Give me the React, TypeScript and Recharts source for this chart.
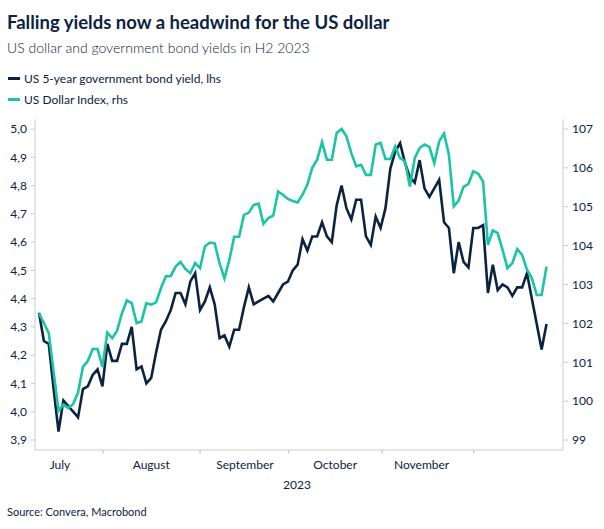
import React from 'react';
import { LineChart, Line, XAxis, YAxis } from 'recharts';

const yieldValues = [
  4.35, 4.25, 4.24, 4.08, 3.93, 4.04, 4.02, 4.0, 3.98, 4.08,
  4.09, 4.13, 4.15, 4.09, 4.24, 4.18, 4.18, 4.24, 4.24, 4.3,
  4.15, 4.16, 4.1, 4.12, 4.21, 4.29, 4.32, 4.36, 4.42, 4.42,
  4.38, 4.46, 4.49, 4.36, 4.39, 4.44, 4.38, 4.26, 4.27, 4.23,
  4.29, 4.29, 4.37, 4.44, 4.38, 4.39, 4.4, 4.41, 4.39, 4.42,
  4.45, 4.46, 4.5, 4.52, 4.61, 4.57, 4.62, 4.62, 4.67, 4.62,
  4.6, 4.73, 4.8, 4.72, 4.68, 4.75, 4.75, 4.62, 4.59, 4.69,
  4.65, 4.72, 4.86, 4.92, 4.95, 4.88, 4.83, 4.81, 4.89, 4.79,
  4.76, 4.79, 4.82, 4.67, 4.65, 4.49, 4.6, 4.53, 4.51, 4.65,
  4.65, 4.66, 4.42, 4.52, 4.43, 4.45, 4.44, 4.41, 4.44, 4.44,
  4.49, 4.4, 4.31, 4.22, 4.31,
];

const dxyValues = [
  102.26, 102.01, 101.75, 100.75, 99.75, 99.91, 99.82, 99.93, 100.22, 100.88,
  101.03, 101.34, 101.34, 100.88, 101.76, 101.62, 101.81, 102.26, 102.59, 102.52,
  102.01, 102.05, 102.52, 102.48, 102.54, 102.91, 103.21, 103.22, 103.46, 103.58,
  103.4, 103.29, 103.55, 103.42, 103.98, 104.08, 104.06, 103.55, 103.16, 103.63,
  104.23, 104.23, 104.79, 104.85, 105.05, 105.08, 104.56, 104.71, 104.77, 105.39,
  105.31, 105.2, 105.15, 105.11, 105.31, 105.57, 106.0, 106.21, 106.66, 106.21,
  106.21, 106.9, 107.0, 106.81, 106.38, 106.04, 106.08, 105.82, 105.82, 106.6,
  106.64, 106.23, 106.23, 106.55, 106.25, 106.17, 105.52, 106.25, 106.51, 106.6,
  106.54, 106.12, 106.68, 106.88, 106.34, 105.01, 105.16, 105.51, 105.59, 105.91,
  105.85, 105.65, 104.02, 104.39, 104.32, 103.89, 103.42, 103.55, 103.91, 103.76,
  103.38, 103.16, 102.73, 102.73, 103.46,
];

const monthNames = ['July', 'August', 'September', 'October', 'November'];
const monthLabelIdx = [4.3, 23.0, 42.2, 60.7, 78.4];
const monthBoundaryIdx = [13.1, 33.0, 51.2, 70.3, 89.1];
const leftTicks = [3.9, 4.0, 4.1, 4.2, 4.3, 4.4, 4.5, 4.6, 4.7, 4.8, 4.9, 5.0];
const rightTicks = [99, 100, 101, 102, 103, 104, 105, 106, 107];

const NAVY = '#0b2341';
const TEAL = '#1ac4a7';
const GRID = '#cccccc';
const FONT = 'Lato, "Open Sans", sans-serif';

const data = yieldValues.map((v, i) => ({ i, yld: v, dxy: dxyValues[i] }));
const allXTicks = [...monthBoundaryIdx, ...monthLabelIdx];

const XTick = (props: any) => {
  const { x, y, payload } = props;
  const v = payload.value;
  const bi = monthBoundaryIdx.indexOf(v);
  if (bi >= 0) {
    return <line x1={x} x2={x} y1={y - 4} y2={y - 0.5} stroke="#b8b8b8" strokeWidth={1} />;
  }
  const li = monthLabelIdx.indexOf(v);
  if (li < 0) return null;
  return (
    <text x={x} y={y + 15} textAnchor="middle" fill={NAVY} fontSize={12} fontFamily={FONT}>
      {monthNames[li]}
    </text>
  );
};

export default function App() {
  return (
    <div style={{ position: 'absolute', left: 0, top: 0, width: 604, height: 529, background: '#fff', fontFamily: FONT, color: NAVY, lineHeight: 1.2 }}>
      <div style={{ position: 'absolute', left: 7, top: 11, fontSize: 18.5, fontWeight: 700, whiteSpace: 'nowrap' }}>
        Falling yields now a headwind for the US dollar
      </div>
      <div style={{ position: 'absolute', left: 7, top: 39.5, fontSize: 14, fontWeight: 300, whiteSpace: 'nowrap' }}>
        US dollar and government bond yields in H2 2023
      </div>
      <div style={{ position: 'absolute', left: 8, top: 71.5, fontSize: 12, whiteSpace: 'nowrap', display: 'flex', alignItems: 'center' }}>
        <span style={{ display: 'inline-block', width: 12, height: 3, background: NAVY, marginRight: 4 }} />
        US 5-year government bond yield, lhs
      </div>
      <div style={{ position: 'absolute', left: 8, top: 92.5, fontSize: 12, whiteSpace: 'nowrap', display: 'flex', alignItems: 'center' }}>
        <span style={{ display: 'inline-block', width: 12, height: 3, background: TEAL, marginRight: 4 }} />
        US Dollar Index, rhs
      </div>
      <div style={{ position: 'absolute', left: 0, top: 0 }}>
        <LineChart width={604} height={529} data={data} margin={{ top: 119, right: 0, bottom: 49, left: 0 }}>
          <XAxis
            dataKey="i"
            type="number"
            domain={[-0.82, 107.38]}
            ticks={allXTicks}
            interval={0}
            tickLine={false}
            tickSize={4}
            tickMargin={0}
            axisLine={{ stroke: GRID }}
            tick={<XTick />}
            height={30}
            allowDataOverflow
          />
          <YAxis
            yAxisId="l"
            orientation="left"
            width={35}
            domain={[3.8646, 5.0354]}
            ticks={leftTicks}
            interval={0}
            allowDataOverflow
            tickFormatter={(v: number) => v.toFixed(1).replace('.', ',')}
            axisLine={{ stroke: GRID }}
            tickLine={{ stroke: GRID }}
            tickSize={4}
            tickMargin={4}
            tick={{ fill: NAVY, fontSize: 12, fontFamily: FONT }}
          />
          <YAxis
            yAxisId="r"
            orientation="right"
            width={41}
            domain={[98.743, 107.257]}
            ticks={rightTicks}
            interval={0}
            allowDataOverflow
            axisLine={{ stroke: GRID }}
            tickLine={{ stroke: GRID }}
            tickSize={5}
            tickMargin={4}
            tick={{ fill: NAVY, fontSize: 12, fontFamily: FONT, textAnchor: 'start' }}
          />
          <Line yAxisId="l" dataKey="yld" stroke={NAVY} strokeWidth={2.6} dot={false} isAnimationActive={false} />
          <Line yAxisId="r" dataKey="dxy" stroke={TEAL} strokeWidth={2.6} dot={false} isAnimationActive={false} />
        </LineChart>
      </div>
      <div style={{ position: 'absolute', left: 297, top: 478, transform: 'translateX(-50%)', fontSize: 12, whiteSpace: 'nowrap' }}>
        2023
      </div>
      <div style={{ position: 'absolute', left: 7, top: 505, fontSize: 11, whiteSpace: 'nowrap' }}>
        Source: Convera, Macrobond
      </div>
    </div>
  );
}
